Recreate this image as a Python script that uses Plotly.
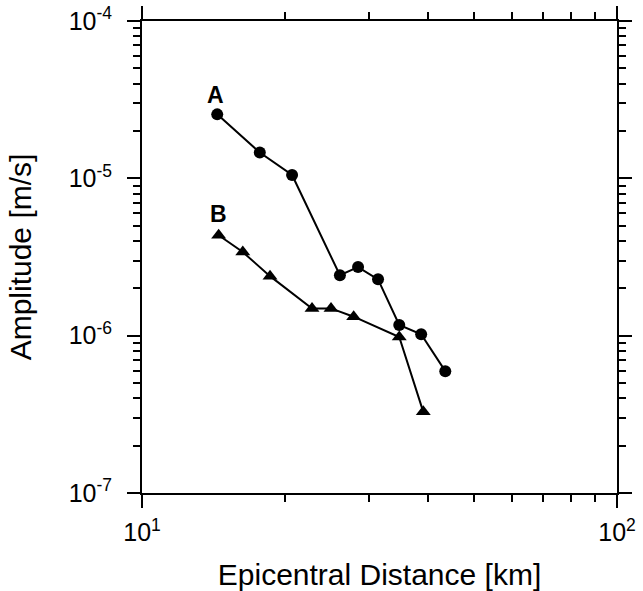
import plotly.graph_objects as go
import numpy as np

# Series A (circles)
dist_a = [14.4, 17.7, 20.7, 26.1, 28.5, 31.4, 34.8, 38.7, 43.5]
amp_a = [2.55e-5, 1.46e-5, 1.05e-5, 2.42e-6, 2.73e-6, 2.28e-6, 1.17e-6, 1.02e-6, 5.95e-7]

# Series B (triangles)
dist_b = [14.5, 16.3, 18.6, 22.8, 25.0, 27.9, 34.8, 39.1]
amp_b = [4.35e-6, 3.40e-6, 2.39e-6, 1.49e-6, 1.49e-6, 1.32e-6, 9.8e-7, 3.28e-7]

x_major = [10, 100]
x_major_text = ["10<sup>1</sup>", "10<sup>2</sup>"]
y_major = [1e-7, 1e-6, 1e-5, 1e-4]
y_major_text = ["10<sup>-7</sup>", "10<sup>-6</sup>", "10<sup>-5</sup>", "10<sup>-4</sup>"]

x_minor = [m * 10 for m in range(2, 10)]
y_minor = [m * 10.0 ** e for e in (-7, -6, -5) for m in range(2, 10)]

FONT = "Liberation Sans, Arial, sans-serif"

fig = go.Figure()
fig.add_trace(go.Scatter(
    x=dist_a, y=amp_a, mode="lines+markers",
    line=dict(color="black", width=2),
    marker=dict(symbol="circle", size=12, color="black"),
    showlegend=False))
fig.add_trace(go.Scatter(
    x=dist_b, y=amp_b, mode="lines+markers",
    line=dict(color="black", width=2),
    marker=dict(symbol="triangle-up", size=13, color="black"),
    showlegend=False))

fig.add_annotation(x=np.log10(14.3), y=np.log10(3.37e-5), text="<b>A</b>",
                   showarrow=False, font=dict(family=FONT, size=23, color="black"))
fig.add_annotation(x=np.log10(14.5), y=np.log10(5.97e-6), text="<b>B</b>",
                   showarrow=False, font=dict(family=FONT, size=23, color="black"))

axis_common = dict(
    showline=True, linecolor="black", linewidth=2, mirror="allticks",
    ticks="outside", ticklen=13, tickwidth=2, tickcolor="black",
    showgrid=False, zeroline=False, automargin=False,
    tickfont=dict(family=FONT, size=25, color="black"),
)

fig.update_xaxes(
    type="log", range=[1, 2],
    tickmode="array", tickvals=x_major, ticktext=x_major_text,
    minor=dict(tickmode="array", tickvals=x_minor, ticks="outside",
               ticklen=7, tickwidth=1.5, tickcolor="black", showgrid=False),
    ticklabelstandoff=3,
    title=dict(text="Epicentral Distance [km]", font=dict(family=FONT, size=30, color="black"),
               standoff=22),
    **axis_common)
fig.update_yaxes(
    type="log", range=[-7, -4],
    tickmode="array", tickvals=y_major, ticktext=y_major_text,
    minor=dict(tickmode="array", tickvals=y_minor, ticks="outside",
               ticklen=7, tickwidth=1.5, tickcolor="black", showgrid=False),
    ticklabelstandoff=10,
    title=dict(text="Amplitude [m/s]", font=dict(family=FONT, size=30, color="black"),
               standoff=28),
    **axis_common)

fig.update_layout(
    width=643, height=591,
    margin=dict(l=142, r=26, t=21, b=98),
    paper_bgcolor="white", plot_bgcolor="white",
    font=dict(family=FONT, color="black"),
)

fig.write_html("out.html")
